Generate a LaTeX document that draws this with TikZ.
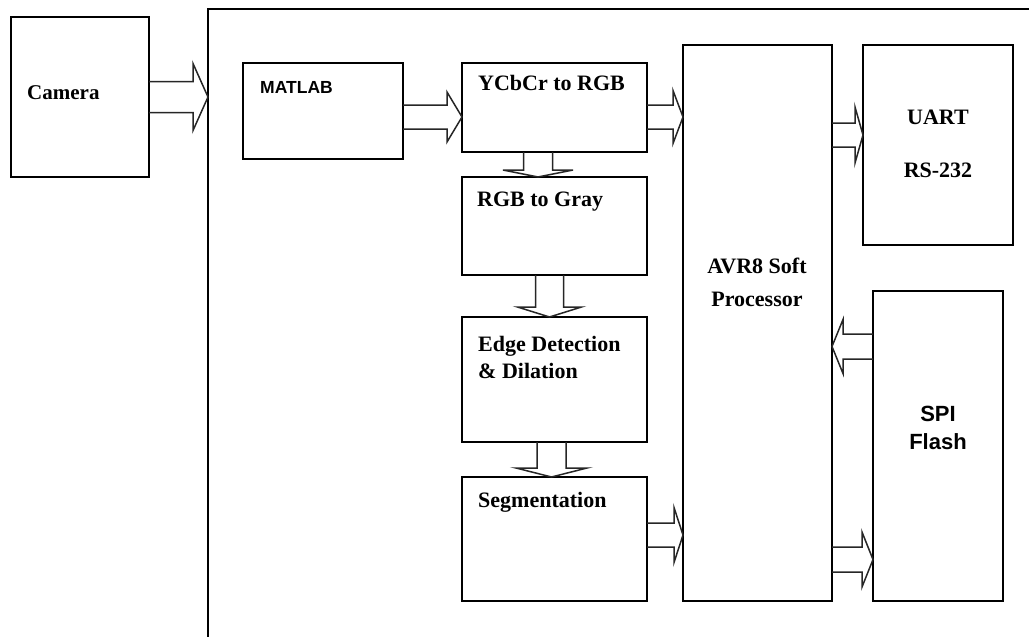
\documentclass[tikz,border=0pt]{standalone}
\usepackage{fontspec}
\setmainfont{Liberation Serif}
\newfontfamily\labelsans{Liberation Sans}
\usetikzlibrary{calc}

% hollow block arrow: shaft half width, head half width, head length, from, to
\newcommand{\fatarrow}[5]{%
  \path #4 coordinate (fa-s) #5 coordinate (fa-e);
  \coordinate (fa-b) at ($(fa-e)!#3!(fa-s)$);
  \draw[fatarr] ($(fa-s)!#1!90:(fa-e)$) -- ($(fa-b)!#1!90:(fa-e)$) -- ($(fa-b)!#2!90:(fa-e)$)
    -- (fa-e) -- ($(fa-b)!#2!-90:(fa-e)$) -- ($(fa-b)!#1!-90:(fa-e)$) -- ($(fa-s)!#1!-90:(fa-e)$);
}

\begin{document}
\begin{tikzpicture}[
  x=1pt, y=-1pt,
  blk/.style={draw, line width=1.9pt, inner sep=0pt, outer sep=0pt},
  fatarr/.style={draw=black!85, line width=1.5pt, line join=miter},
  seriflbl/.style={font=\bfseries\fontsize{22}{26}\selectfont, inner sep=0pt, align=left},
  sanslbl/.style={font=\labelsans\bfseries\fontsize{22}{28}\selectfont, inner sep=0pt, align=center}
]
\useasboundingbox (0,0) rectangle (1029,637);

% board frame
\coordinate (board) at (208,9);
\draw[line width=1.9pt] (208,637) -- (board) -- (1029,9);

% blocks
\node[blk, minimum width=138pt, minimum height=160pt] (cam) at (80,97) {};
\node[blk, minimum width=160pt, minimum height=96pt] (matlab) at (323,111) {};
\node[blk, minimum width=185pt, minimum height=89pt] (ycc) at (554.5,107.5) {};
\node[blk, minimum width=185pt, minimum height=98pt] (gray) at (554.5,226) {};
\node[blk, minimum width=185pt, minimum height=125pt] (edge) at (554.5,379.5) {};
\node[blk, minimum width=185pt, minimum height=124pt] (seg) at (554.5,539) {};
\node[blk, minimum width=149pt, minimum height=556pt] (avr) at (757.5,323) {};
\node[blk, minimum width=150pt, minimum height=200pt] (uart) at (938,145) {};
\node[blk, minimum width=130pt, minimum height=310pt] (spi) at (938,446) {};

% texts
\node[seriflbl, font=\bfseries\fontsize{21}{25}\selectfont, anchor=west] (cam-txt) at (27,93) {Camera};
\node[sanslbl, font=\labelsans\bfseries\fontsize{17.5}{20}\selectfont, anchor=west] (matlab-txt) at (260,87) {MATLAB};
\node[seriflbl, anchor=west] (ycc-txt) at (478,83) {YCbCr to RGB};
\node[seriflbl, anchor=west] (gray-txt) at (477,202) {RGB to Gray};
\node[seriflbl, font=\bfseries\fontsize{22}{27}\selectfont, anchor=west] (edge-txt) at (478,357) {Edge Detection\\\& Dilation};
\node[seriflbl, anchor=west] (seg-txt) at (478,502) {Segmentation};
\node[seriflbl, font=\bfseries\fontsize{22}{33}\selectfont, align=center] (avr-txt) at (757,282) {AVR8 Soft\\Processor};
\node[seriflbl, font=\bfseries\fontsize{22}{53}\selectfont, align=center] (uart-txt) at (938,144) {UART\\RS-232};
\node[sanslbl] (spi-txt) at (938,428) {SPI\\Flash};

% block arrows
\fatarrow{15.5pt}{33.5pt}{15pt}{(cam.east)}{(cam.east -| board)}
\fatarrow{12pt}{25pt}{15pt}{($(matlab.east)+(0,6)$)}{($(matlab.east -| ycc.west)+(0,6)$)}
\fatarrow{12pt}{26.5pt}{10pt}{($(ycc.east)+(0,9.5)$)}{($(ycc.east -| avr.west)+(0,9.5)$)}
\fatarrow{14.5pt}{35pt}{7pt}{($(ycc.south)+(-16.5,0)$)}{($(ycc.south |- gray.north)+(-16.5,0)$)}
\fatarrow{14pt}{32pt}{10pt}{($(gray.south)+(-5,0)$)}{($(gray.south |- edge.north)+(-5,0)$)}
\fatarrow{14.5pt}{35.5pt}{9pt}{($(edge.south)+(-3,0)$)}{($(edge.south |- seg.north)+(-3,0)$)}
\fatarrow{12pt}{27.5pt}{9pt}{($(seg.east)+(0,-4)$)}{($(seg.east -| avr.west)+(0,-4)$)}
\fatarrow{12pt}{28pt}{8pt}{($(uart.west -| avr.east)+(0,-10)$)}{($(uart.west)+(0,-10)$)}
\fatarrow{12.5pt}{27pt}{11pt}{($(spi.west)+(0,-99.5)$)}{($(spi.west -| avr.east)+(0,-99.5)$)}
\fatarrow{12.5pt}{27.5pt}{11pt}{($(spi.west -| avr.east)+(0,113.5)$)}{($(spi.west)+(0,113.5)$)}
\end{tikzpicture}
\end{document}
